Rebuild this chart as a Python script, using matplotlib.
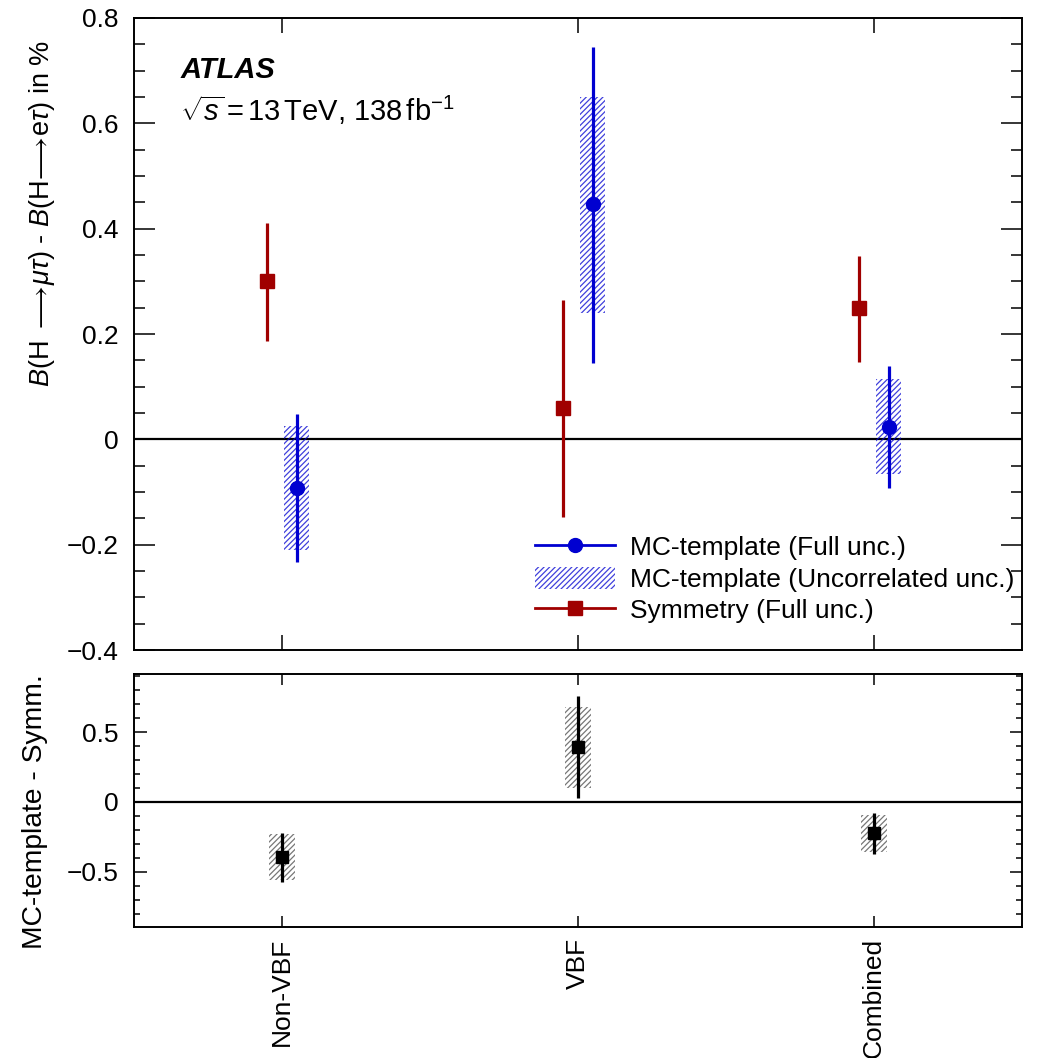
import matplotlib
matplotlib.use("Agg")
import matplotlib.pyplot as plt
from matplotlib.lines import Line2D
from matplotlib.patches import Patch
from matplotlib.ticker import MultipleLocator
import numpy as np

plt.rcParams['font.family'] = ['Liberation Sans', 'DejaVu Sans']
plt.rcParams['mathtext.fontset'] = 'custom'
plt.rcParams['mathtext.rm'] = 'Liberation Sans'
plt.rcParams['mathtext.it'] = 'Liberation Sans:italic'
plt.rcParams['mathtext.bf'] = 'Liberation Sans:bold'
plt.rcParams['hatch.linewidth'] = 0.9

# ---------------- data ----------------
categories = ["Non-VBF", "VBF", "Combined"]

sym_val = [0.300, 0.060, 0.249]
sym_up = [0.410, 0.264, 0.349]
sym_lo = [0.187, -0.148, 0.146]

mc_val = [-0.092, 0.446, 0.023]
mc_up = [0.049, 0.745, 0.139]
mc_lo = [-0.233, 0.145, -0.093]
mc_unc_up = [0.025, 0.650, 0.114]
mc_unc_lo = [-0.210, 0.239, -0.066]

diff_val = [-0.395, 0.390, -0.225]
diff_up = [-0.220, 0.755, -0.080]
diff_lo = [-0.575, 0.030, -0.375]
diff_unc_up = [-0.230, 0.680, -0.090]
diff_unc_lo = [-0.560, 0.100, -0.360]

BLUE = '#0000d0'
RED = '#a00000'
FS = 19

fig = plt.figure(figsize=(10.38, 10.58), dpi=100)
ax1 = fig.add_axes([0.1291, 0.3856, 0.8555, 0.5974])
ax2 = fig.add_axes([0.1291, 0.1238, 0.8555, 0.2391])

x = np.arange(len(categories))
off = 0.05
bw = 0.085

# ---------- upper panel ----------
ax1.axhline(0, color='black', lw=1.6, zorder=1)
mv = np.array(mc_val); sv = np.array(sym_val)
ax1.bar(x + off, np.array(mc_unc_up) - np.array(mc_unc_lo), bottom=mc_unc_lo, width=bw,
        facecolor='none', edgecolor=BLUE, hatch='//////', linewidth=0, alpha=0.75, zorder=2)
ax1.errorbar(x + off, mv, yerr=[mv - np.array(mc_lo), np.array(mc_up) - mv], fmt='o',
             color=BLUE, ms=10, elinewidth=2.3, capsize=0, zorder=3)
ax1.errorbar(x - off, sv, yerr=[sv - np.array(sym_lo), np.array(sym_up) - sv], fmt='s',
             color=RED, ms=9.5, elinewidth=2.3, capsize=0, zorder=3)

ax1.set_xlim(-0.5, 2.5)
ax1.set_ylim(-0.4, 0.8)
ax1.yaxis.set_minor_locator(MultipleLocator(0.05))
ax1.set_yticks([-0.4, -0.2, 0, 0.2, 0.4, 0.6, 0.8])
ax1.set_yticklabels(['\u22120.4', '\u22120.2', '0', '0.2', '0.4', '0.6', '0.8'])
ax1.set_xticks(x)
ax1.tick_params(axis='x', labelbottom=False)
ax1.tick_params(axis='both', which='both', direction='in', top=True, right=True,
                labelsize=FS, width=1.1)
ax1.tick_params(axis='y', which='major', length=15, pad=11)
ax1.tick_params(axis='y', which='minor', length=8)
ax1.tick_params(axis='x', which='major', length=11)
for s in ax1.spines.values():
    s.set_linewidth(1.4)

ax1.set_ylabel(r'$\mathit{B}$(H $\longrightarrow\!\mu\tau$) - $\mathit{B}$(H$\!\longrightarrow\!$e$\tau$) in %',
               fontsize=19.5, loc='top')
ax1.yaxis.set_label_coords(-0.087, 0.965)

ax1.text(0.052, 0.918, 'ATLAS', transform=ax1.transAxes, fontsize=21,
         fontweight='bold', fontstyle='italic', va='center', ha='left')
ax1.text(0.052, 0.855, r'$\sqrt{s}\,$=$\,$13$\,$TeV, 138$\,$fb$^{-1}$', transform=ax1.transAxes,
         fontsize=21, va='center', ha='left')

handles = [
    Line2D([0], [0], color=BLUE, marker='o', ms=10, lw=2),
    Patch(facecolor='none', edgecolor=BLUE, hatch='//////', linewidth=0, alpha=0.75),
    Line2D([0], [0], color=RED, marker='s', ms=9.5, lw=2),
]
labels = ['MC-template (Full unc.)', 'MC-template (Uncorrelated unc.)', 'Symmetry (Full unc.)']
ax1.legend(handles, labels, loc='upper left', bbox_to_anchor=(0.452, 0.182), frameon=False,
           fontsize=FS, handlelength=3.0, handletextpad=0.6, labelspacing=0.25,
           borderpad=0, borderaxespad=0, handleheight=0.9)

# ---------- lower panel ----------
ax2.axhline(0, color='black', lw=1.6, zorder=1)
dv = np.array(diff_val)
ax2.bar(x, np.array(diff_unc_up) - np.array(diff_unc_lo), bottom=diff_unc_lo, width=bw,
        facecolor='none', edgecolor='#555555', hatch='//////', linewidth=0, alpha=0.8, zorder=2)
ax2.errorbar(x, dv, yerr=[dv - np.array(diff_lo), np.array(diff_up) - dv], fmt='s',
             color='black', ms=8.5, elinewidth=2.3, capsize=0, zorder=3)
ax2.set_xlim(-0.5, 2.5)
ax2.set_ylim(-0.895, 0.915)
ax2.set_yticks([-0.5, 0, 0.5])
ax2.set_yticklabels(['\u22120.5', '0', '0.5'])
ax2.yaxis.set_minor_locator(MultipleLocator(0.1))
ax2.set_xticks(x)
ax2.set_xticklabels(categories, rotation=90)
ax2.tick_params(axis='both', which='both', direction='in', top=True, right=True,
                labelsize=FS, width=1.1)
ax2.tick_params(axis='y', which='major', length=9, pad=11)
ax2.tick_params(axis='y', which='minor', length=4)
ax2.tick_params(axis='x', which='major', length=8, pad=8)
for s in ax2.spines.values():
    s.set_linewidth(1.4)
ax2.set_ylabel('MC-template - Symm.', fontsize=20.3, loc='top')
ax2.yaxis.set_label_coords(-0.097, 1.0)

fig.savefig('out.png', dpi=100)
